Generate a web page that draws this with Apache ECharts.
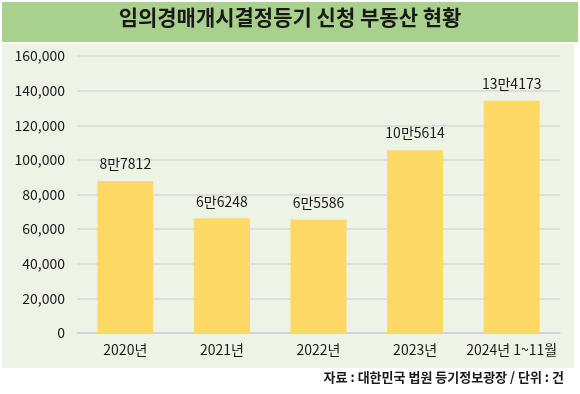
<!DOCTYPE html>
<html><head><meta charset="utf-8">
<script src="https://cdn.jsdelivr.net/npm/echarts@6/dist/echarts.min.js"></script>
<style>html,body{margin:0;padding:0;background:#fff;}#c{width:580px;height:394px;}</style>
</head><body><div id="c"></div>
<script>
const categories = ['2020년','2021년','2022년','2023년','2024년 1~11월'];
const values = [87812, 66248, 65586, 105614, 134173];
const valueLabels = ['8만7812','6만6248','6만5586','10만5614','13만4173'];
const titleText = '임의경매개시결정등기 신청 부동산 현황';
const sourceText = '자료 : 대한민국 법원 등기정보광장 / 단위 : 건';

const font = '"Noto Sans CJK KR", "Noto Sans", sans-serif';
const chart = echarts.init(document.getElementById('c'), null, {renderer:'canvas'});
chart.setOption({
  animation:false,
  backgroundColor:'#ffffff',
  graphic:[
    {type:'rect', shape:{x:2,y:2,width:576,height:40}, style:{fill:'#a9d18e'}, z:-10},
    {type:'rect', shape:{x:2,y:44,width:572,height:324}, style:{fill:'#edf3e5'}, z:-10},
    {type:'text', left:'center', top:7, style:{text:titleText, font:'bold 21px '+font, fill:'#1a1a1a'}},
    {type:'text', right:16, top:371, style:{text:sourceText, font:'bold 13px '+font, fill:'#1a1a1a'}}
  ],
  grid:{left:77, right:20, top:56, bottom:61, containLabel:false},
  xAxis:{
    type:'category', data:categories,
    axisLine:{lineStyle:{color:'#d0d0d0', width:1.5}},
    axisTick:{show:false},
    axisLabel:{color:'#1a1a1a', fontSize:14, fontFamily:font, margin:10, interval:0}
  },
  yAxis:{
    type:'value', min:0, max:160000, interval:20000,
    axisLine:{show:false}, axisTick:{show:false},
    splitLine:{lineStyle:{color:'#d9d9d9', width:1.5}},
    axisLabel:{color:'#1a1a1a', fontSize:14, fontFamily:font, margin:12,
      formatter:v=>v.toLocaleString('en-US')}
  },
  series:[{
    type:'bar', data:values, barWidth:'58%',
    itemStyle:{color:'#ffd966'},
    label:{show:true, position:'top', distance:10, color:'#1a1a1a', fontSize:14, fontFamily:font,
      formatter:p=>valueLabels[p.dataIndex]}
  }]
});
</script></body></html>
